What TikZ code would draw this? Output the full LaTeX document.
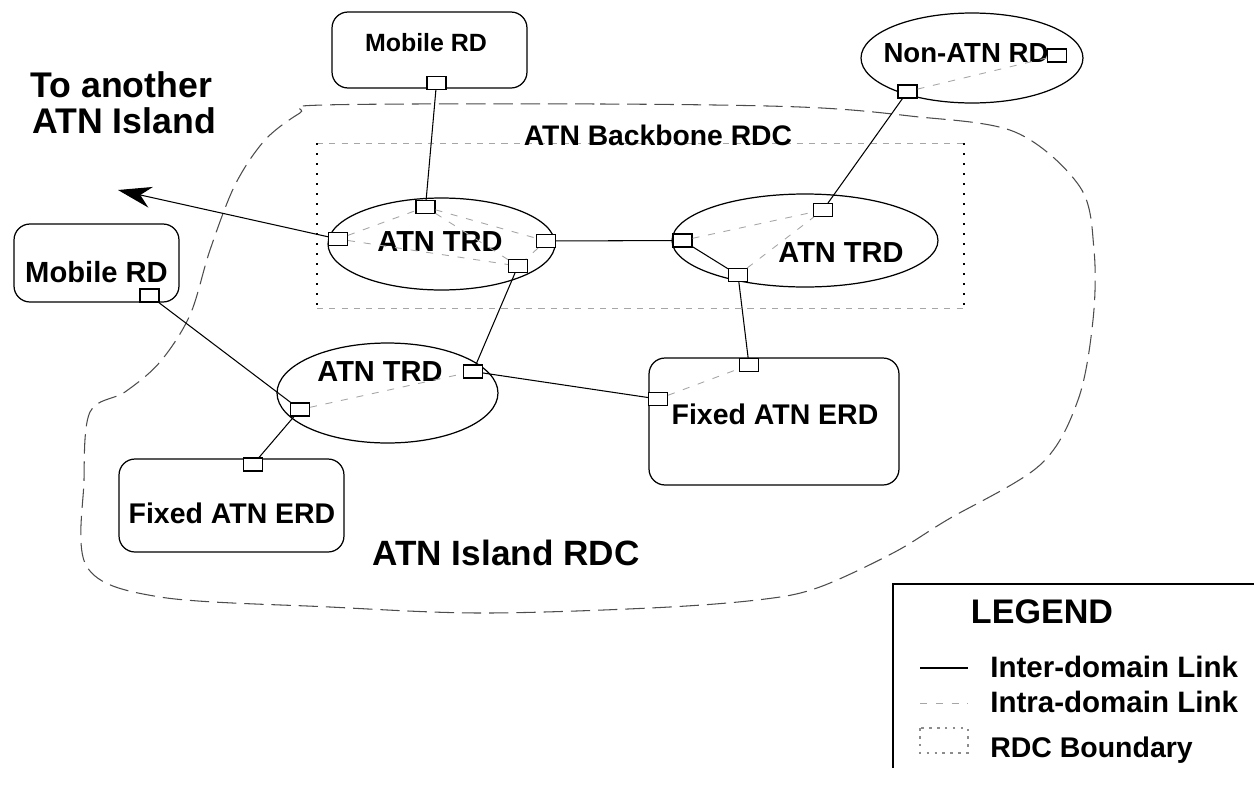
\documentclass[tikz,border=0pt]{standalone}
\usepackage{fontspec}
\setmainfont{Liberation Sans}
\usetikzlibrary{shapes.geometric,arrows.meta}
\newcommand\fs[1]{\fontsize{#1}{#1}\selectfont\bfseries}
\tikzset{
  port/.style={draw,line width=0.6pt,fill=white,inner sep=0pt,minimum width=0.38cm,minimum height=0.26cm},
  rbox/.style={draw,line width=0.7pt,rounded corners=0.32cm,inner sep=0pt},
  oval/.style={draw,ellipse,line width=0.7pt,inner sep=0pt},
  txt/.style={inner sep=0pt,anchor=base},
  inter/.style={line width=0.6pt},
  intra/.style={line width=0.5pt,black!35,dash pattern=on 4pt off 5pt},
  island/.style={line width=0.6pt,black!70,dash pattern=on 11pt off 4.5pt},
  bbh/.style={line width=0.5pt,black!35,dash pattern=on 3.5pt off 3.5pt},
  bbv/.style={line width=0.8pt,black,dash pattern=on 1.2pt off 4.5pt},
  rdcsym/.style={line width=0.6pt,black!45,dash pattern=on 1.5pt off 3pt},
}
\begin{document}
\begin{tikzpicture}[x=0.02cm,y=-0.02cm]
\useasboundingbox (0,0) rectangle (1254,788);
% island RDC boundary
\draw[island] plot[smooth cycle, tension=0.55] coordinates {
 (323,105) (600,104) (800,107) (910,116) (1015,132) (1080,187) (1094,250)
 (1093,320) (1078,400) (1040,465) (947,520) (893,553) (817,588) (757,600)
 (650,608) (480,613) (330,607) (160,597) (87,567) (84,480) (90,412)
 (125,392) (160,362) (190,315) (210,250) (235,185) (265,140) (300,113)};
% backbone RDC
\coordinate (bb1) at (317,143); \coordinate (bb2) at (964,143);
\coordinate (bb3) at (964,308); \coordinate (bb4) at (317,308);
\draw[bbh] (bb1) -- (bb2);
\draw[bbh] (bb4) -- (bb3);
\draw[bbv] (bb1) -- (bb4);
\draw[bbv] (bb2) -- (bb3);
% domains
\node[rbox,minimum width=3.9cm,minimum height=1.52cm] (mt) at (429.5,50) {};
\node[rbox,minimum width=3.3cm,minimum height=1.56cm] (ml) at (96.5,263) {};
\node[rbox,minimum width=4.5cm,minimum height=1.86cm] (el) at (231.5,505.5) {};
\node[rbox,minimum width=5.0cm,minimum height=2.54cm] (er) at (774,421.5) {};
\node[oval,minimum width=4.44cm,minimum height=1.8cm] (na) at (972,58) {};
\node[oval,minimum width=4.54cm,minimum height=1.84cm] (t1) at (441.5,244) {};
\node[oval,minimum width=5.32cm,minimum height=1.86cm] (t2) at (805,240.5) {};
\node[oval,minimum width=4.42cm,minimum height=2.0cm] (t3) at (387.5,393) {};
% texts
\node[txt,font=\fs{14.2}] (mtx) at (426,51) {Mobile RD};
\node[txt,font=\fs{15.7}] (natx) at (966,62) {Non-ATN RD};
\node[txt,font=\fs{16.5}] (t1x) at (440,251) {ATN TRD};
\node[txt,font=\fs{16.5}] (t2x) at (841,262) {ATN TRD};
\node[txt,font=\fs{16.5}] (t3x) at (380,381) {ATN TRD};
\node[txt,font=\fs{16.2}] (erx) at (775,424) {Fixed ATN ERD};
\node[txt,font=\fs{16.2}] (elx) at (232,523) {Fixed ATN ERD};
\node[txt,font=\fs{16.6}] (mlx) at (96.5,282) {Mobile RD};
\node[txt,font=\fs{20}] (isl) at (506,565) {ATN Island RDC};
\node[txt,anchor=base west,font=\fs{20.3}] (to1) at (30,97) {To another};
\node[txt,anchor=base west,font=\fs{20.3}] (to2) at (32,133) {ATN Island};
\node[txt,font=\fs{16.1}] (bbx) at (658,145) {ATN Backbone RDC};
% ports
\node[port] (mtp) at (436.5,83) {};
\node[port] (nap1) at (1057,55.5) {};
\node[port] (nap2) at (907.5,91.5) {};
\node[port] (t1t) at (425.5,207) {};
\node[port] (t1l) at (338,239) {};
\node[port] (t1r) at (546,241) {};
\node[port] (t1b) at (518,266) {};
\node[port] (t2t) at (823,210) {};
\node[port] (t2l) at (682.5,240.5) {};
\node[port] (t2b) at (738,275) {};
\node[port] (mlp) at (149.5,295.5) {};
\node[port] (t3r) at (473,371.5) {};
\node[port] (t3l) at (300,409.5) {};
\node[port] (elp) at (253,464.5) {};
\node[port] (ert) at (749,365) {};
\node[port] (erl) at (658,399) {};
% inter-domain links
\draw[inter] (mtp) -- (t1t);
\draw[inter] (nap2) -- (t2t);
\draw[inter] (t1r) -- (t2l);
\draw[inter] (t1b) -- (t3r);
\draw[inter] (t3r) -- (erl);
\draw[inter] (t2b) -- (ert);
\draw[inter] (t2l) -- (t2b);
\draw[inter] (mlp) -- (t3l);
\draw[inter] (t3l) -- (elp);
\coordinate (away) at (118,190);
\draw[inter,-{Stealth[length=19pt,width=12pt,inset=6pt]}] (t1l) -- (away);
% intra-domain links
\draw[intra] (nap2) -- (nap1);
\draw[intra] (t1l) -- (t1t);
\draw[intra] (t1l) -- (t1b);
\draw[intra] (t1t) -- (t1r);
\draw[intra] (t1t) -- (t1b);
\draw[intra] (t1r) -- (t1b);
\draw[intra] (t2l) -- (t2t);
\draw[intra] (t2b) -- (t2t);
\draw[intra] (t3l) -- (t3r);
\draw[intra] (erl) -- (ert);
% legend
\coordinate (lf1) at (893,768); \coordinate (lf2) at (893,584); \coordinate (lf3) at (1254,584);
\draw[line width=1pt] (lf1) -- (lf2) -- (lf3);
\node[txt,font=\fs{19.4}] (lg) at (1042,623) {LEGEND};
\coordinate (l1a) at (920,668); \coordinate (l1b) at (968,668);
\draw[inter] (l1a) -- (l1b);
\node[txt,anchor=base west,font=\fs{16.8}] (lg1) at (990,677) {Inter-domain Link};
\coordinate (l2a) at (920,703); \coordinate (l2b) at (968,703);
\draw[intra] (l2a) -- (l2b);
\node[txt,anchor=base west,font=\fs{16.8}] (lg2) at (990,712) {Intra-domain Link};
\coordinate (l3a) at (920,728); \coordinate (l3b) at (968,753);
\draw[rdcsym] (l3a) rectangle (l3b);
\node[txt,anchor=base west,font=\fs{16.2}] (lg3) at (990,757) {RDC Boundary};
\end{tikzpicture}
\end{document}
